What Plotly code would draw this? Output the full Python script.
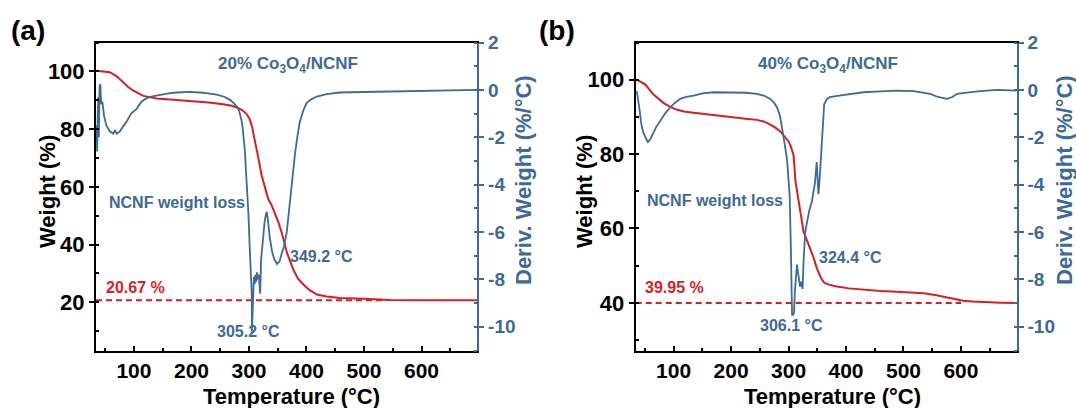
import plotly.graph_objects as go

# ---------------- data ----------------
# Panel (a): 20% Co3O4/NCNF
temp_a_weight = [35, 45, 58, 70, 81, 90, 99, 116, 139.5, 170, 197, 230, 255, 270, 279, 288, 296, 301,
                 305, 309, 313.5, 318, 322, 328, 333.6, 339, 345, 351, 357, 362, 366, 372, 377, 385, 395,
                 405, 418, 435, 458, 500, 545, 600, 650, 697]
weight_a = [100.2, 100.0, 99.7, 98.3, 96.2, 94.6, 93.3, 91.5, 90.6, 90.2, 89.8, 89.2, 88.6, 88.1, 87.5,
            86.6, 85.2, 83.6, 81.1, 77.5, 73.0, 68.3, 64.0, 59.3, 55.7, 53.8, 51.0, 47.8, 44.1, 40.5, 37.2,
            34.0, 31.4, 28.3, 26.1, 24.3, 22.7, 22.0, 21.5, 21.2, 20.8, 20.75, 20.7, 20.67]

temp_a_deriv = [35, 36, 37, 38, 39, 40, 41.5, 43, 45, 48, 52, 58, 64, 67, 70, 75.6, 81, 87, 95, 104.7,
                113, 122, 132, 145, 160, 174, 197, 220, 244, 258, 267, 273, 279, 283, 287, 289, 291, 293,
                294, 296, 298, 299, 301, 302, 303.5, 304.8, 305.2, 306, 306.5, 307.5, 308.5, 310, 311,
                312.5, 314, 315.5, 317, 318.5, 319.5, 321, 324, 327, 329.5, 331, 333, 336, 340, 344, 349,
                353, 357, 361, 365.7, 370, 374, 377, 380, 384, 388, 394, 400, 408, 418, 435, 458, 500,
                545, 600, 650, 697]
deriv_a = [-1.5, -2.6, -1.0, -0.3, -2.0, 0.1, 0.25, -0.6, -0.5, -1.1, -1.5, -1.75, -1.85, -1.7, -1.85,
           -1.75, -1.55, -1.35, -1.0, -0.8, -0.5, -0.35, -0.27, -0.2, -0.15, -0.11, -0.08, -0.12, -0.2,
           -0.3, -0.42, -0.55, -0.7, -0.9, -1.27, -1.6, -2.0, -2.6, -3.1, -3.8, -4.6, -5.2, -6.5, -7.3,
           -8.0, -8.6, -10.2, -9.4, -9.0, -8.3, -7.9, -8.2, -7.8, -8.1, -7.7, -8.0, -7.8, -8.3, -8.6,
           -7.2, -6.2, -5.6, -5.25, -5.15, -5.5, -6.2, -6.8, -7.15, -7.35, -7.25, -6.9, -6.6, -6.0,
           -5.0, -3.8, -3.2, -2.7, -2.0, -1.4, -0.9, -0.56, -0.4, -0.28, -0.18, -0.11, -0.09, -0.07,
           -0.05, -0.03, 0.0]
residual_a = 20.67
residual_a_span = [34, 540]

# Panel (b): 40% Co3O4/NCNF
temp_b_weight = [36, 50.8, 65, 82.6, 95, 106, 120, 140.7, 170, 198.6, 225, 245, 258, 268, 277, 285.6, 293,
                 300, 304, 308.7, 312, 316, 320, 326, 332, 337.7, 343, 349, 356, 361, 363.8, 370, 384, 405,
                 430, 460, 488.5, 510, 535, 555, 569.6, 585, 604, 620, 639, 670, 697]
weight_b = [100, 98.7, 96, 93.7, 92.6, 91.9, 91.4, 91.0, 90.4, 89.9, 89.5, 89.2, 88.7, 87.9, 87.1, 86.1,
            84.8, 83.4, 82.0, 79.8, 72.7, 69.0, 65.5, 59.2, 56.8, 54.7, 52.4, 49.4, 46.8, 45.6, 45.3, 44.9,
            44.4, 43.9, 43.5, 43.2, 43.0, 42.85, 42.6, 42.1, 41.7, 41.1, 40.6, 40.35, 40.2, 40.05, 39.95]

temp_b_deriv = [36, 38, 41, 43, 45, 48, 50.8, 53, 55, 57, 60, 65, 70, 77, 85, 94, 102, 111.6, 122, 135,
                150, 169.6, 198.6, 225, 245, 258, 268, 275, 280, 285, 288.5, 291, 294, 296, 298, 300.7,
                302, 304, 305, 306.1, 308, 309.5, 311, 313, 314.6, 316.5, 318, 320, 322, 324.4, 326, 329,
                332, 336, 340.7, 344, 346, 349, 350.5, 352, 354, 357, 360, 362, 367, 372, 385, 400, 430,
                460, 488.5, 517, 530, 546.5, 560, 575.5, 585, 593, 610, 634, 663, 697]
deriv_b = [-0.05, -0.5, -0.9, -1.3, -1.6, -1.85, -2.0, -2.1, -2.2, -2.15, -2.05, -1.8, -1.55, -1.3, -1.0,
           -0.74, -0.55, -0.38, -0.3, -0.24, -0.15, -0.1, -0.1, -0.12, -0.17, -0.25, -0.38, -0.55, -0.74,
           -1.1, -1.58, -1.9, -2.29, -2.7, -3.14, -3.84, -4.5, -6.67, -8.2, -9.5, -9.5, -9.4, -8.5, -7.6,
           -7.37, -7.7, -8.0, -8.3, -8.1, -8.4, -7.3, -6.0, -5.6, -5.1, -4.7, -4.3, -3.9, -3.05, -3.6,
           -4.4, -3.8, -2.4, -1.1, -0.6, -0.38, -0.3, -0.25, -0.2, -0.1, -0.06, -0.03, -0.05, -0.1,
           -0.17, -0.3, -0.38, -0.3, -0.17, -0.12, -0.05, 0.0, -0.03]
residual_b = 39.95
residual_b_span = [34, 600]

x_ticks = [100, 200, 300, 400, 500, 600]
deriv_ticks = [2, 0, -2, -4, -6, -8, -10]
deriv_tick_labels = ["2", "0", "-2", "-4", "-6", "-8", "-10"]

# ---------------- styling ----------------
RED = "#D71E23"
BLUE = "#3D6A98"
FONT = "Liberation Sans, Arial, sans-serif"
W, H = 1076, 408


def px(x):
    return x / W


def py(y):
    return 1 - y / H


fig = go.Figure()

panels = [
    dict(x="x", yl="y", yr="y2", tw=temp_a_weight, w=weight_a, td=temp_a_deriv, d=deriv_a,
         res=residual_a, span=residual_a_span),
    dict(x="x2", yl="y3", yr="y4", tw=temp_b_weight, w=weight_b, td=temp_b_deriv, d=deriv_b,
         res=residual_b, span=residual_b_span),
]
for p in panels:
    fig.add_trace(go.Scatter(x=p["tw"], y=p["w"], mode="lines", xaxis=p["x"], yaxis=p["yl"],
                             line=dict(color=RED, width=2), showlegend=False))
    fig.add_trace(go.Scatter(x=p["span"], y=[p["res"], p["res"]], mode="lines", xaxis=p["x"],
                             yaxis=p["yl"], line=dict(color=RED, width=2, dash="6px,4px"),
                             showlegend=False))
    fig.add_trace(go.Scatter(x=p["td"], y=p["d"], mode="lines", xaxis=p["x"], yaxis=p["yr"],
                             line=dict(color=BLUE, width=1.8), showlegend=False))

y_dom = [py(350.5), py(42.5)]
xdoms = [[px(96), px(477.3)], [px(635.7), px(1016.7)]]
left_ranges = [[3.3, 110], [27.2, 110]]

for i in range(2):
    xa = "xaxis" if i == 0 else "xaxis2"
    yl = "yaxis" if i == 0 else "yaxis3"
    yr = "yaxis2" if i == 0 else "yaxis4"
    xref = "y" if i == 0 else "y3"
    ylref = "x" if i == 0 else "x2"
    ylname = "y" if i == 0 else "y3"
    fig.update_layout(**{
        xa: dict(domain=xdoms[i], range=[34, 697], anchor=xref, showgrid=False, zeroline=False,
                 automargin=False,
                 showline=True, linecolor="black", linewidth=2, mirror=True,
                 tickmode="array", tickvals=x_ticks, ticks="inside", ticklen=5, tickwidth=1.5,
                 tickcolor="black", ticklabelstandoff=0,
                 tickfont=dict(family=FONT, size=21, color="black", weight="bold"),
                 minor=dict(dtick=50, tick0=0, ticks="inside", ticklen=2.5, tickwidth=1.5,
                            tickcolor="black")),
        yl: dict(domain=y_dom, range=left_ranges[i], anchor=ylref, showgrid=False, zeroline=False,
                 automargin=False,
                 showline=True, linecolor="black", linewidth=2, dtick=20, tick0=0,
                 ticks="outside", ticklen=5, tickwidth=1.5, tickcolor="black",
                 tickfont=dict(family=FONT, size=22, color="black", weight="bold"),
                 minor=dict(dtick=10, tick0=0, ticks="inside", ticklen=3, tickwidth=1.5,
                            tickcolor="black")),
        yr: dict(domain=y_dom, range=[-11, 2], anchor=ylref, overlaying=ylname, side="right",
                 automargin=False,
                 showgrid=False, zeroline=False, showline=True, linecolor=BLUE, linewidth=2,
                 tickmode="array", tickvals=deriv_ticks, ticktext=deriv_tick_labels,
                 ticks="outside", ticklen=5, tickwidth=1.5, tickcolor=BLUE,
                 tickfont=dict(family=FONT, size=19, color=BLUE, weight="bold"),
                 minor=dict(dtick=1, tick0=0, ticks="inside", ticklen=3, tickwidth=1.5,
                            tickcolor=BLUE)),
    })

ann = []


def add(text, x, y, size, color="black", angle=0):
    ann.append(dict(text=text, x=px(x), y=py(y), xref="paper", yref="paper", showarrow=False,
                    xanchor="center", yanchor="middle", textangle=angle,
                    font=dict(family=FONT, size=size, color=color, weight="bold")))


# panel labels
add("(a)", 28, 31, 28)
add("(b)", 557, 31, 28)
# axis titles
add("Weight (%)", 47, 192, 22, angle=-90)
add("Deriv. Weight (%/°C)", 523, 180, 22, BLUE, angle=-90)
add("Temperature (°C)", 291, 396, 22)
add("Weight (%)", 584, 192, 22, angle=-90)
add("Deriv. Weight (%/°C)", 1064, 180, 22, BLUE, angle=-90)
add("Temperature (°C)", 832, 396, 22)
# in-plot labels
add("20% Co<sub>3</sub>O<sub>4</sub>/NCNF", 288, 65, 17, BLUE)
add("NCNF weight loss", 176.5, 202, 16, BLUE)
add("349.2 °C", 321.7, 256, 16, BLUE)
add("305.2 °C", 248, 331, 16, BLUE)
add("20.67 %", 135, 287, 16, RED)
add("40% Co<sub>3</sub>O<sub>4</sub>/NCNF", 827.5, 65, 17, BLUE)
add("NCNF weight loss", 715, 200, 16, BLUE)
add("324.4 °C", 850, 257, 16, BLUE)
add("306.1 °C", 791, 325, 16, BLUE)
add("39.95 %", 674.5, 287, 16, RED)

fig.update_layout(width=W, height=H, margin=dict(l=0, r=0, t=0, b=0, autoexpand=False),
                  paper_bgcolor="white", plot_bgcolor="white", annotations=ann,
                  font=dict(family=FONT))

fig.write_html("out.html", config={"displayModeBar": False},
               post_script="document.body.style.margin='0';document.body.style.padding='0';"
                           "document.body.style.overflow='hidden';")
